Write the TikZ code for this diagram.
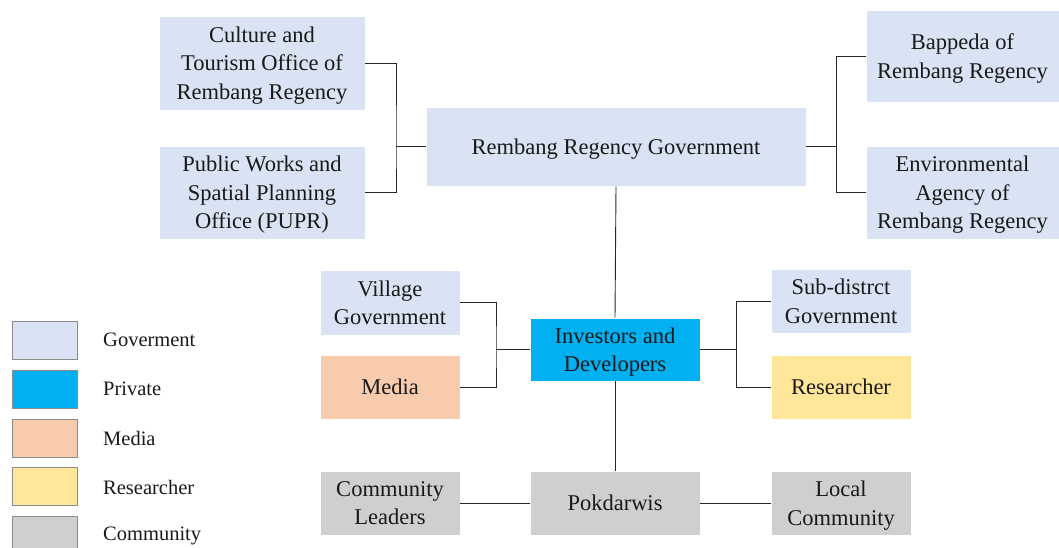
\documentclass[tikz,border=0pt]{standalone}
\usepackage{fontspec}
\setmainfont{Liberation Serif}
\definecolor{govfill}{HTML}{DAE3F3}
\definecolor{privfill}{HTML}{00B0F0}
\definecolor{mediafill}{HTML}{F8CBAD}
\definecolor{resfill}{HTML}{FFE699}
\definecolor{comfill}{HTML}{D0CECE}
\definecolor{linecol}{HTML}{262626}
\begin{document}
\begin{tikzpicture}[x=1pt,y=-1pt,
  box/.style={draw=white,line width=0.6pt,minimum width=#1,align=center,inner sep=0pt,
    font=\rmfamily\fontsize{22.5}{28.5}\selectfont,text=black!90,text depth=0pt},
  box/.default=140pt,
  gov/.style={fill=govfill},
  priv/.style={fill=privfill},
  med/.style={fill=mediafill},
  res/.style={fill=resfill},
  com/.style={fill=comfill},
  wire/.style={draw=linecol,line width=0.9pt},
  legbox/.style={draw=black!45,line width=0.8pt,minimum width=65pt,minimum height=38pt,inner sep=0pt},
  legtext/.style={anchor=west,font=\rmfamily\fontsize{20.5}{22}\selectfont,text=black!90,inner sep=0pt}]
\useasboundingbox (0,0) rectangle (1059,548);
\clip (0,0) rectangle (1059,548);

% government tier
\node[box=206pt,gov,minimum height=94pt] (cult) at (262,63) {Culture and\\Tourism Office of\\Rembang Regency};
\node[box=206pt,gov,minimum height=93pt] (pupr) at (262,192.5) {Public Works and\\Spatial Planning\\Office (PUPR)};
\node[box=380pt,gov,minimum height=79pt] (gov) at (616,146.5) {Rembang Regency Government};
\node[box=193pt,gov,minimum height=92pt] (bap) at (962.5,56) {Bappeda of\\Rembang Regency};
\node[box=193pt,gov,minimum height=93pt] (env) at (962.5,192.5) {Environmental\\Agency of\\Rembang Regency};

% middle tier
\node[box,gov,minimum height=65pt] (vil) at (390,302.5) {Village\\Government};
\node[box,med,minimum height=64pt] (med) at (390,387) {Media};
\node[box=170pt,priv,minimum height=63pt] (inv) at (615,349.5) {Investors and\\Developers};
\node[box,gov,minimum height=64pt] (sub) at (841,301) {Sub-distrct\\Government};
\node[box,res,minimum height=64pt] (res) at (841,387) {Researcher};

% community tier
\node[box,com,minimum height=64pt] (lead) at (390,503) {Community\\Leaders};
\node[box=170pt,com,minimum height=64pt] (pok) at (615,503) {Pokdarwis};
\node[box,com,minimum height=64pt] (loc) at (841,503) {Local\\Community};

% junction points of the bracket connectors
\coordinate (jl) at (396,146.5);
\coordinate (jr) at (836,146.5);
\coordinate (ml) at (496,349.5);
\coordinate (mr) at (736,349.5);

\draw[wire] (cult.east) -| (jl) |- (pupr.east);
\draw[wire] (jl) -- (gov.west);
\draw[wire] (bap.west) -| (jr) |- (env.west);
\draw[wire] (jr) -- (gov.east);
\draw[wire] (gov.south) -- (inv.north);
\draw[wire] (vil.east) -| (ml) |- (med.east);
\draw[wire] (ml) -- (inv.west);
\draw[wire] (sub.west) -| (mr) |- (res.west);
\draw[wire] (mr) -- (inv.east);
\draw[wire] (inv.south) -- (pok.north);
\draw[wire] (lead.east) -- (pok.west);
\draw[wire] (pok.east) -- (loc.west);

% legend
\node[legbox,fill=govfill] (lg1) at (44.5,340) {};
\node[legbox,fill=privfill] (lg2) at (44.5,389) {};
\node[legbox,fill=mediafill] (lg3) at (44.5,438) {};
\node[legbox,fill=resfill] (lg4) at (44.5,486) {};
\node[legbox,fill=comfill] (lg5) at (44.5,535) {};
\node[legtext] (lt1) at (103,340) {Goverment};
\node[legtext] (lt2) at (103,389) {Private};
\node[legtext] (lt3) at (103,438) {Media};
\node[legtext] (lt4) at (103,487) {Researcher};
\node[legtext] (lt5) at (103,536) {Community};
\end{tikzpicture}
\end{document}
